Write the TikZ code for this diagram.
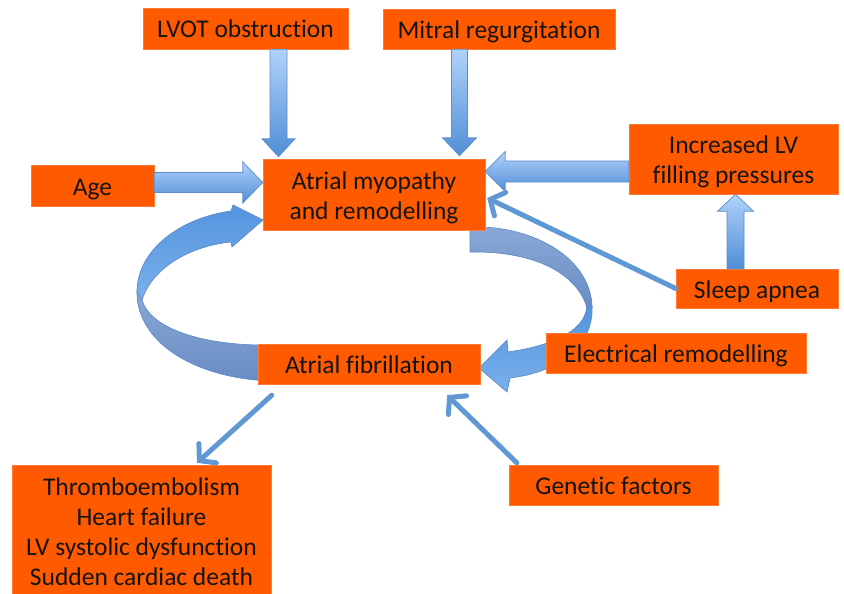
\documentclass[tikz,border=0pt]{standalone}
\usepackage{fontspec}
\setmainfont{Carlito}[Ligatures=NoCommon]
\usetikzlibrary{calc,arrows.meta}
\definecolor{boxor}{RGB}{255,90,0}
\definecolor{txt}{RGB}{20,20,20}
\definecolor{barlight}{RGB}{176,210,250}
\definecolor{bardark}{RGB}{80,142,214}
\definecolor{barline}{RGB}{95,140,200}
\definecolor{thinblue}{RGB}{96,152,212}
\definecolor{ribA}{RGB}{84,148,222}
\definecolor{ribB}{RGB}{122,176,236}
\definecolor{ribC}{RGB}{138,168,214}
\definecolor{ribD}{RGB}{104,140,196}
\newcommand{\blockarrow}[5]{%
 \path[barrow] let \p1=(#1), \p2=(#2), \p3=($(\p2)!#5!(\p1)$) in
  ($(\p1)!#3!90:(\p2)$) -- ($(\p3)!#3!90:(\p2)$) -- ($(\p3)!#4!90:(\p2)$) -- (\p2)
  -- ($(\p3)!#4!-90:(\p2)$) -- ($(\p3)!#3!-90:(\p2)$) -- ($(\p1)!#3!-90:(\p2)$) -- cycle;}
\tikzset{
  box/.style={fill=boxor, draw=boxor!80!white, line width=0.4pt, inner sep=0pt, align=center,
    text=txt, font=\fontsize{25.5}{30}\selectfont, text height=21pt, text depth=2pt},
  box2/.style={box, text height=50pt, text depth=1pt},
  box4/.style={box, text height=110pt, text depth=0pt},
  barrow/.style={top color=barlight, bottom color=bardark, draw=barline, line width=0.7pt},
  ribtop/.style={top color=ribA, bottom color=ribB, draw=barline, line width=0.7pt},
  ribside/.style={top color=ribC, bottom color=ribD, draw=barline, line width=0.7pt},
  thinarr/.style={draw=thinblue, line width=5pt, line cap=round,
    -{Straight Barb[length=11pt,width=26pt,line cap=round]}}
}
\begin{document}
\begin{tikzpicture}[x=1pt,y=-1pt]
\useasboundingbox (0,0) rectangle (844,594);
% ribbons (cycle arrows)
\path[ribtop] (231,211) .. controls (180,218) and (137,250) .. (137,292) -- (142,300)
  .. controls (152,268) and (190,246) .. (231,242) -- (232,247) -- (263,220) -- (233,205) -- cycle;
\path[ribside] (137,292) .. controls (137,345) and (200,380) .. (275,381) -- (275,345) -- (258,345)
  .. controls (200,344) and (150,328) .. (142,300) -- cycle;
\path[ribside] (470,227) -- (479,227) .. controls (540,228) and (592,262) .. (592,308) -- (587,308)
  .. controls (578,276) and (540,253) .. (479,252) -- (470,252) -- cycle;
\path[ribtop] (592,306) .. controls (594,345) and (560,372) .. (510,378) -- (507,392) -- (479,368)
  -- (507,340) -- (508,352) .. controls (550,346) and (585,332) .. (587,306) -- cycle;
% boxes
\node[box, minimum width=205pt, minimum height=41pt] (lvot) at (245.5,28.5) {LVOT obstruction};
\node[box, minimum width=232pt, minimum height=40pt] (mitral) at (499,29) {Mitral regurgitation};
\node[box2, minimum width=222pt, minimum height=71pt] (myo) at (374,194.5) {Atrial myopathy\\and remodelling};
\node[box, minimum width=123pt, minimum height=41pt] (age) at (92.5,185.5) {Age};
\node[box2, minimum width=209pt, minimum height=70pt] (incr) at (733.5,159) {Increased LV\\filling pressures};
\node[box, minimum width=162pt, minimum height=39pt] (sleep) at (757,288.5) {Sleep apnea};
\node[box, minimum width=222pt, minimum height=40pt] (af) at (369,364) {Atrial fibrillation};
\node[box, minimum width=260pt, minimum height=40pt] (elec) at (676,353) {Electrical remodelling};
\node[box4, minimum width=259pt, minimum height=130pt] (thromb) at (141.5,530) {Thromboembolism\\Heart failure\\LV systolic dysfunction\\Sudden cardiac death};
\node[box, minimum width=209pt, minimum height=40pt] (gen) at (613.5,485) {Genetic factors};
% block arrows
\coordinate (lvA) at ($(lvot.south)+(33,0)$);
\coordinate (lvB) at ($(myo.north)+(-95.5,-2)$);
\coordinate (miA) at ($(mitral.south)+(-39.5,0)$);
\coordinate (miB) at ($(myo.north)+(85.5,-3)$);
\coordinate (agA) at ($(age.east)+(0,-3)$);
\coordinate (agB) at ($(myo.west)+(0,-12)$);
\coordinate (inA) at ($(incr.west)+(0,12.5)$);
\coordinate (inB) at ($(myo.east)+(0,-23)$);
\coordinate (slA) at ($(sleep.north)+(-21.5,0)$);
\coordinate (slB) at ($(incr.south)+(2,0)$);
\blockarrow{lvA}{lvB}{8.5pt}{16.5pt}{18pt}
\blockarrow{miA}{miB}{8pt}{17pt}{18pt}
\blockarrow{agA}{agB}{10pt}{20.5pt}{20pt}
\blockarrow{inA}{inB}{10.5pt}{20pt}{20pt}
\blockarrow{slA}{slB}{8.5pt}{18pt}{17pt}
% thin arrows
\draw[thinarr] (sleep.west) -- ($(myo.east)+(2,3.5)$);
\draw[thinarr] ($(af.south west)+(14,11)$) -- ($(thromb.north)+(55.5,-2)$);
\draw[thinarr] ($(gen.north west)+(8,-2)$) -- ($(af.south east)+(-33,11)$);
\end{tikzpicture}
\end{document}
